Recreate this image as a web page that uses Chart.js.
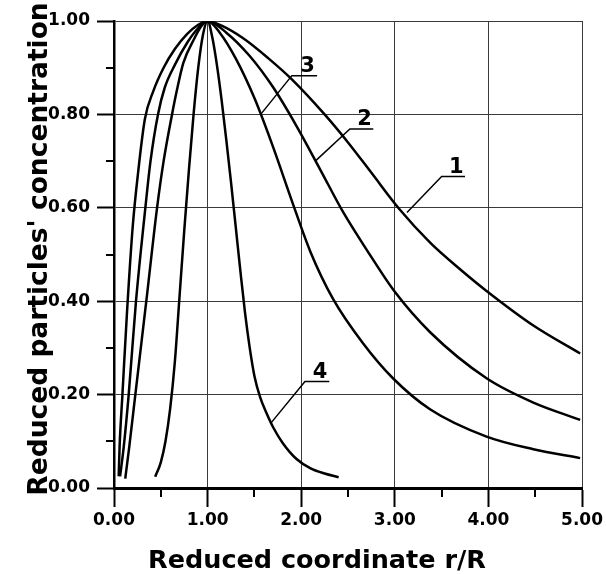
<!doctype html>
<html>
<head>
<meta charset="utf-8">
<title>Reduced particles' concentration</title>
<script src="https://cdn.jsdelivr.net/npm/chart.js"></script>
<style>
  html, body { margin: 0; padding: 0; background: #fff; }
  #wrap { width: 606px; height: 574px; }
</style>
</head>
<body>
<div id="wrap"><canvas id="chart" width="606" height="574"></canvas></div>
<script>
// curve data: reduced coordinate r/R -> reduced concentration
const r1 = [0.05, 0.06, 0.09, 0.14, 0.2, 0.26, 0.33, 0.42, 0.53, 0.65, 0.78, 0.9, 1.0, 1.15, 1.38, 1.65, 1.9, 2.25, 2.5, 2.75, 3.05, 3.38, 3.7, 3.98, 4.48, 4.98];
const c1 = [0.025, 0.09, 0.2, 0.38, 0.56, 0.68, 0.79, 0.85, 0.9, 0.94, 0.972, 0.992, 1.0, 0.99, 0.963, 0.92, 0.875, 0.8, 0.74, 0.675, 0.597, 0.525, 0.468, 0.422, 0.348, 0.288];

const r2 = [0.065, 0.104, 0.157, 0.235, 0.335, 0.39, 0.47, 0.54, 0.65, 0.79, 0.9, 1.0, 1.2, 1.45, 1.7, 1.95, 2.2, 2.45, 2.7, 3.0, 3.38, 3.98, 4.48, 4.98];
const c2 = [0.025, 0.088, 0.2, 0.4, 0.6, 0.7, 0.8, 0.856, 0.906, 0.956, 0.985, 1.0, 0.975, 0.925, 0.858, 0.775, 0.683, 0.59, 0.51, 0.42, 0.333, 0.235, 0.183, 0.146];

const r3 = [0.12, 0.163, 0.228, 0.345, 0.46, 0.53, 0.62, 0.67, 0.74, 0.86, 0.93, 1.0, 1.13, 1.3, 1.5, 1.7, 1.9, 2.1, 2.34, 2.66, 2.98, 3.38, 3.98, 4.48, 4.98];
const c3 = [0.02, 0.088, 0.2, 0.4, 0.6, 0.7, 0.8, 0.85, 0.91, 0.963, 0.988, 1.0, 0.975, 0.92, 0.835, 0.73, 0.615, 0.505, 0.405, 0.31, 0.235, 0.168, 0.11, 0.083, 0.064];

const r4 = [0.44, 0.5, 0.55, 0.6, 0.65, 0.7, 0.75, 0.8, 0.85, 0.9, 0.95, 1.0, 1.05, 1.1, 1.15, 1.2, 1.25, 1.3, 1.35, 1.4, 1.45, 1.5, 1.56, 1.63, 1.7, 1.8, 1.95, 2.1, 2.25, 2.4];
const c4 = [0.024, 0.055, 0.1, 0.17, 0.27, 0.41, 0.55, 0.68, 0.8, 0.9, 0.97, 1.0, 0.965, 0.905, 0.83, 0.745, 0.655, 0.56, 0.465, 0.375, 0.3, 0.24, 0.195, 0.16, 0.13, 0.097, 0.062, 0.042, 0.031, 0.023];

const xMinor = [0.5, 1.5, 2.5, 3.5, 4.5];
const yMinor = [0.1, 0.3, 0.5, 0.7, 0.9];

// curve labels: text, leader tip (on curve), underline from..to at level
const calloutText = ['1', '2', '3', '4'];
const calloutTip = [[3.13, 0.59], [2.15, 0.7], [1.567, 0.80], [1.68, 0.14]];
const calloutLine = [[3.50, 3.75, 0.667], [2.52, 2.77, 0.769], [1.90, 2.17, 0.883], [2.04, 2.30, 0.228]];

const xTitle = 'Reduced coordinate r/R';
const yTitle = "Reduced particles' concentration";

const FONT = "'DejaVu Sans', Arial, sans-serif";

function pts(rs, cs) { return rs.map((r, i) => ({ x: r, y: cs[i] })); }

function isMajor(v, step) { const k = v / step; return Math.abs(k - Math.round(k)) < 1e-6; }

const extras = {
  id: 'extras',
  afterDraw(chart) {
    const { ctx, scales: { x, y } } = chart;
    ctx.save();
    ctx.strokeStyle = '#000';
    ctx.lineWidth = 2;
    // minor ticks
    xMinor.forEach(v => {
      const px = Math.round(x.getPixelForValue(v));
      ctx.beginPath(); ctx.moveTo(px, y.bottom); ctx.lineTo(px, y.bottom + 9); ctx.stroke();
    });
    yMinor.forEach(v => {
      const py = Math.round(y.getPixelForValue(v));
      ctx.beginPath(); ctx.moveTo(x.left, py); ctx.lineTo(x.left - 8, py); ctx.stroke();
    });
    // callouts
    ctx.lineWidth = 1.5;
    ctx.fillStyle = '#000';
    ctx.font = 'bold 21px ' + FONT;
    ctx.textAlign = 'center';
    ctx.textBaseline = 'alphabetic';
    calloutText.forEach((t, i) => {
      const [tr, tc] = calloutTip[i];
      const [a, b, lv] = calloutLine[i];
      const ly = y.getPixelForValue(lv);
      const xa = x.getPixelForValue(a), xb = x.getPixelForValue(b);
      ctx.beginPath();
      ctx.moveTo(x.getPixelForValue(tr), y.getPixelForValue(tc));
      ctx.lineTo(xa, ly);
      ctx.lineTo(xb, ly);
      ctx.stroke();
      ctx.fillText(t, (xa + xb) / 2 + 3, ly - 4);
    });
    // axis titles
    ctx.font = 'bold 25.5px ' + FONT;
    ctx.textAlign = 'center';
    ctx.fillText(xTitle, 317, 568);
    ctx.font = 'bold 26.5px ' + FONT;
    ctx.translate(47, 249);
    ctx.rotate(-Math.PI / 2);
    ctx.fillText(yTitle, 0, 0);
    ctx.restore();
  }
};

const line = (rs, cs) => ({
  data: pts(rs, cs),
  borderColor: '#000',
  borderWidth: 2.5,
  pointRadius: 0,
  fill: false,
  cubicInterpolationMode: 'monotone'
});

new Chart(document.getElementById('chart'), {
  type: 'line',
  data: { datasets: [line(r1, c1), line(r2, c2), line(r3, c3), line(r4, c4)] },
  options: {
    responsive: false,
    animation: false,
    layout: { padding: { top: 21, right: 23, left: 0, bottom: 0 } },
    plugins: { legend: { display: false }, tooltip: { enabled: false } },
    scales: {
      x: {
        type: 'linear', min: 0, max: 5,
        afterFit(s) { s.height = 86; },
        border: { display: true, color: '#000', width: 3 },
        grid: {
          color: c => isMajor(c.tick.value, 1) ? '#3a3a3a' : 'rgba(0,0,0,0)',
          lineWidth: 1,
          tickColor: c => isMajor(c.tick.value, 1) ? '#000' : 'rgba(0,0,0,0)',
          tickLength: 19,
          tickWidth: 2
        },
        ticks: {
          stepSize: 0.5, autoSkip: false, maxRotation: 0, padding: 3,
          color: '#000',
          font: { family: FONT, size: 17, weight: 'bold' },
          callback: v => isMajor(v, 1) ? v.toFixed(2) : ''
        }
      },
      y: {
        type: 'linear', min: 0, max: 1,
        afterFit(s) { s.width = 114; },
        border: { display: true, color: '#000', width: 2.5 },
        grid: {
          color: c => isMajor(c.tick.value, 0.2) ? '#3a3a3a' : 'rgba(0,0,0,0)',
          lineWidth: 1,
          tickColor: c => isMajor(c.tick.value, 0.2) ? '#000' : 'rgba(0,0,0,0)',
          tickLength: 17,
          tickWidth: 2
        },
        ticks: {
          stepSize: 0.1, autoSkip: false, padding: 7,
          color: '#000',
          font: { family: FONT, size: 17, weight: 'bold' },
          callback: v => isMajor(v, 0.2) ? v.toFixed(2) : ''
        }
      }
    }
  },
  plugins: [extras]
});
</script>
</body>
</html>
